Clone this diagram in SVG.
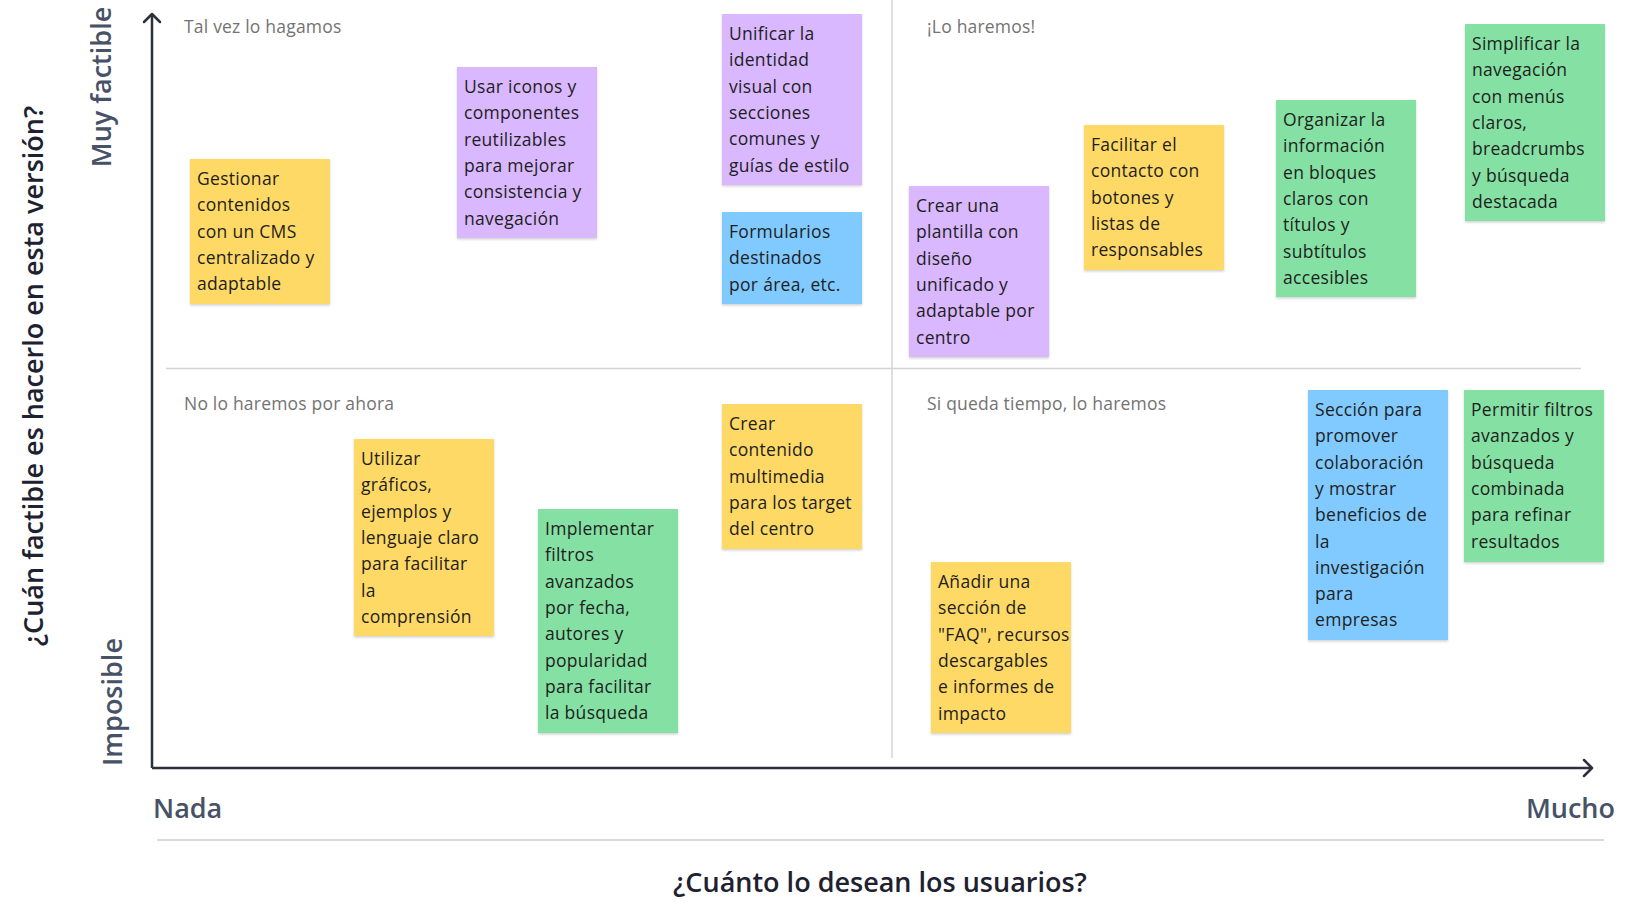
<svg xmlns="http://www.w3.org/2000/svg" width="1625" height="903" viewBox="0 0 1625 903">
<style>
.bg{fill:#ffffff}
.y{fill:#FFD966}.p{fill:#D9B8FF}.b{fill:#80CAFF}.g{fill:#85E0A3}
.note{filter:url(#sh)}
.st{font-family:"Open Sans","Liberation Sans",sans-serif;font-size:17.5px;letter-spacing:0.3px;fill:#1E1E1E}
.ql{font-family:"Open Sans","Liberation Sans",sans-serif;font-size:17.5px;letter-spacing:0.2px;fill:#737373}
.ax{font-family:"Open Sans","Liberation Sans",sans-serif;font-size:27px;font-weight:600;fill:#475267}
.tt{font-family:"Open Sans","Liberation Sans",sans-serif;font-size:27px;font-weight:600;fill:#1E2230}
.axis{stroke:#2A303C;stroke-width:2.5;fill:none}
.div{stroke:#D4D4D4;stroke-width:1.5;fill:none}
</style>
<defs>
<filter id="sh" x="-10%" y="-10%" width="120%" height="120%">
<feDropShadow dx="0" dy="1.5" stdDeviation="1.2" flood-color="#000" flood-opacity="0.18"/>
</filter>
<marker id="arr" viewBox="0 0 12 20" refX="10" refY="10" markerWidth="12" markerHeight="20" markerUnits="userSpaceOnUse" orient="auto">
<path d="M2,2 L10,10 L2,18" fill="none" stroke="#2A303C" stroke-width="2.5" stroke-linecap="round" stroke-linejoin="round"/>
</marker>
</defs>
<rect class="bg" x="0" y="0" width="1625" height="903"/>

<g id="connectors">
<line class="div" x1="892" y1="0" x2="892" y2="758"/>
<line class="div" x1="166" y1="368.5" x2="1581" y2="368.5"/>
<line x1="157" y1="840" x2="1604" y2="840" stroke="#D9D9D9" stroke-width="2"/>
<line class="axis" x1="152" y1="768" x2="152" y2="14" marker-end="url(#arr)"/>
<line class="axis" x1="152" y1="768" x2="1592" y2="768" marker-end="url(#arr)"/>
</g>

<g id="labels">
<text class="ql" x="184" y="33">Tal vez lo hagamos</text>
<text class="ql" x="927" y="33">¡Lo haremos!</text>
<text class="ql" x="184" y="410">No lo haremos por ahora</text>
<text class="ql" x="927" y="410">Si queda tiempo, lo haremos</text>
<text class="ax" transform="translate(111,87) rotate(-90)" text-anchor="middle">Muy factible</text>
<text class="ax" transform="translate(122,702) rotate(-90)" text-anchor="middle">Imposible</text>
<text class="tt" transform="translate(43,376) rotate(-90)" text-anchor="middle">¿Cuán factible es hacerlo en esta versión?</text>
<text class="ax" x="153" y="818">Nada</text>
<text class="ax" x="1615" y="818" text-anchor="end">Mucho</text>
<text class="tt" x="880" y="892" text-anchor="middle">¿Cuánto lo desean los usuarios?</text>
</g>

<g id="n1" transform="translate(190,159)">
<rect class="note y" width="140" height="145"/>
<text class="st" y="26"><tspan x="7">Gestionar</tspan><tspan x="7" dy="26.3">contenidos</tspan><tspan x="7" dy="26.3">con un CMS</tspan><tspan x="7" dy="26.3">centralizado y</tspan><tspan x="7" dy="26.3">adaptable</tspan></text>
</g>
<g id="n2" transform="translate(457,67)">
<rect class="note p" width="140" height="171"/>
<text class="st" y="26"><tspan x="7">Usar iconos y</tspan><tspan x="7" dy="26.3">componentes</tspan><tspan x="7" dy="26.3">reutilizables</tspan><tspan x="7" dy="26.3">para mejorar</tspan><tspan x="7" dy="26.3">consistencia y</tspan><tspan x="7" dy="26.3">navegación</tspan></text>
</g>
<g id="n3" transform="translate(722,14)">
<rect class="note p" width="140" height="171"/>
<text class="st" y="26"><tspan x="7">Unificar la</tspan><tspan x="7" dy="26.3">identidad</tspan><tspan x="7" dy="26.3">visual con</tspan><tspan x="7" dy="26.3">secciones</tspan><tspan x="7" dy="26.3">comunes y</tspan><tspan x="7" dy="26.3">guías de estilo</tspan></text>
</g>
<g id="n4" transform="translate(722,212)">
<rect class="note b" width="140" height="92"/>
<text class="st" y="26"><tspan x="7">Formularios</tspan><tspan x="7" dy="26.3">destinados</tspan><tspan x="7" dy="26.3">por área, etc.</tspan></text>
</g>
<g id="n5" transform="translate(909,186)">
<rect class="note p" width="140" height="171"/>
<text class="st" y="26"><tspan x="7">Crear una</tspan><tspan x="7" dy="26.3">plantilla con</tspan><tspan x="7" dy="26.3">diseño</tspan><tspan x="7" dy="26.3">unificado y</tspan><tspan x="7" dy="26.3">adaptable por</tspan><tspan x="7" dy="26.3">centro</tspan></text>
</g>
<g id="n6" transform="translate(1084,125)">
<rect class="note y" width="140" height="145"/>
<text class="st" y="26"><tspan x="7">Facilitar el</tspan><tspan x="7" dy="26.3">contacto con</tspan><tspan x="7" dy="26.3">botones y</tspan><tspan x="7" dy="26.3">listas de</tspan><tspan x="7" dy="26.3">responsables</tspan></text>
</g>
<g id="n7" transform="translate(1276,100)">
<rect class="note g" width="140" height="197"/>
<text class="st" y="26"><tspan x="7">Organizar la</tspan><tspan x="7" dy="26.3">información</tspan><tspan x="7" dy="26.3">en bloques</tspan><tspan x="7" dy="26.3">claros con</tspan><tspan x="7" dy="26.3">títulos y</tspan><tspan x="7" dy="26.3">subtítulos</tspan><tspan x="7" dy="26.3">accesibles</tspan></text>
</g>
<g id="n8" transform="translate(1465,24)">
<rect class="note g" width="140" height="197"/>
<text class="st" y="26"><tspan x="7">Simplificar la</tspan><tspan x="7" dy="26.3">navegación</tspan><tspan x="7" dy="26.3">con menús</tspan><tspan x="7" dy="26.3">claros,</tspan><tspan x="7" dy="26.3">breadcrumbs</tspan><tspan x="7" dy="26.3">y búsqueda</tspan><tspan x="7" dy="26.3">destacada</tspan></text>
</g>
<g id="n9" transform="translate(354,439)">
<rect class="note y" width="140" height="197"/>
<text class="st" y="26"><tspan x="7">Utilizar</tspan><tspan x="7" dy="26.3">gráficos,</tspan><tspan x="7" dy="26.3">ejemplos y</tspan><tspan x="7" dy="26.3">lenguaje claro</tspan><tspan x="7" dy="26.3">para facilitar</tspan><tspan x="7" dy="26.3">la</tspan><tspan x="7" dy="26.3">comprensión</tspan></text>
</g>
<g id="n10" transform="translate(538,509)">
<rect class="note g" width="140" height="224"/>
<text class="st" y="26"><tspan x="7">Implementar</tspan><tspan x="7" dy="26.3">filtros</tspan><tspan x="7" dy="26.3">avanzados</tspan><tspan x="7" dy="26.3">por fecha,</tspan><tspan x="7" dy="26.3">autores y</tspan><tspan x="7" dy="26.3">popularidad</tspan><tspan x="7" dy="26.3">para facilitar</tspan><tspan x="7" dy="26.3">la búsqueda</tspan></text>
</g>
<g id="n11" transform="translate(722,404)">
<rect class="note y" width="140" height="145"/>
<text class="st" y="26"><tspan x="7">Crear</tspan><tspan x="7" dy="26.3">contenido</tspan><tspan x="7" dy="26.3">multimedia</tspan><tspan x="7" dy="26.3">para los target</tspan><tspan x="7" dy="26.3">del centro</tspan></text>
</g>
<g id="n12" transform="translate(931,562)">
<rect class="note y" width="140" height="171"/>
<text class="st" y="26"><tspan x="7">Añadir una</tspan><tspan x="7" dy="26.3">sección de</tspan><tspan x="7" dy="26.3">"FAQ", recursos</tspan><tspan x="7" dy="26.3">descargables</tspan><tspan x="7" dy="26.3">e informes de</tspan><tspan x="7" dy="26.3">impacto</tspan></text>
</g>
<g id="n13" transform="translate(1308,390)">
<rect class="note b" width="140" height="250"/>
<text class="st" y="26"><tspan x="7">Sección para</tspan><tspan x="7" dy="26.3">promover</tspan><tspan x="7" dy="26.3">colaboración</tspan><tspan x="7" dy="26.3">y mostrar</tspan><tspan x="7" dy="26.3">beneficios de</tspan><tspan x="7" dy="26.3">la</tspan><tspan x="7" dy="26.3">investigación</tspan><tspan x="7" dy="26.3">para</tspan><tspan x="7" dy="26.3">empresas</tspan></text>
</g>
<g id="n14" transform="translate(1464,390)">
<rect class="note g" width="140" height="172"/>
<text class="st" y="26"><tspan x="7">Permitir filtros</tspan><tspan x="7" dy="26.3">avanzados y</tspan><tspan x="7" dy="26.3">búsqueda</tspan><tspan x="7" dy="26.3">combinada</tspan><tspan x="7" dy="26.3">para refinar</tspan><tspan x="7" dy="26.3">resultados</tspan></text>
</g>
</svg>
